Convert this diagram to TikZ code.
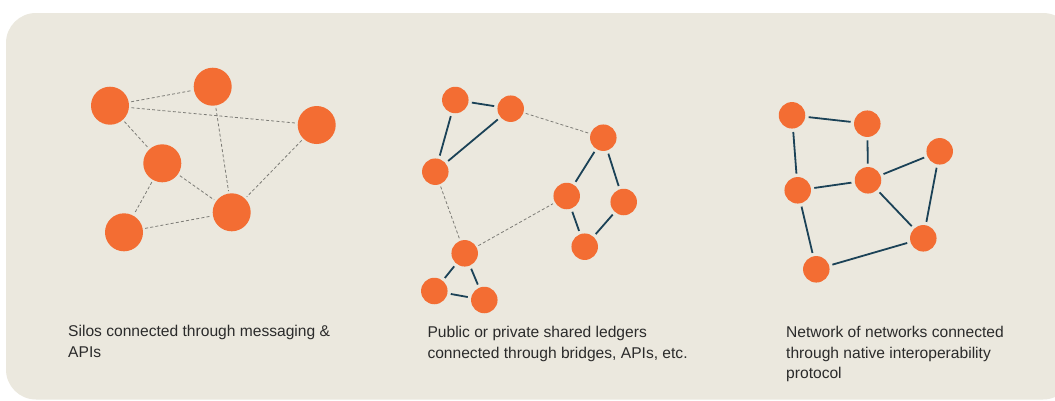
\documentclass[tikz,border=0pt]{standalone}
\usepackage{fontspec}
\setmainfont{Liberation Sans}
\definecolor{panel}{HTML}{EBE8DE}
\definecolor{dot}{HTML}{F36D33}
\definecolor{navy}{HTML}{1B4257}
\definecolor{dashgrey}{HTML}{7C7B76}
\definecolor{ink}{HTML}{2B2B2B}
\begin{document}
\begin{tikzpicture}[x=1pt,y=-1pt,
  big/.style={circle,fill=dot,minimum size=38pt,inner sep=0pt,outer sep=0pt},
  small/.style={circle,fill=dot,minimum size=26.5pt,inner sep=0pt,outer sep=0pt},
  link/.style={draw=navy,line width=1.8pt,shorten <=3.5pt,shorten >=3.5pt},
  weak/.style={draw=dashgrey,line width=0.8pt,dash pattern=on 3pt off 2.2pt,shorten <=2.5pt,shorten >=2.5pt},
  caption/.style={anchor=north west,align=left,inner sep=0pt,text=ink,
    font=\fontsize{15.6}{20.5}\selectfont}]
\useasboundingbox (0,0) rectangle (1055,400);
\fill[white] (0,0) rectangle (1055,400);
\fill[panel,rounded corners=30pt] (6,13) rectangle (1073,399.5);

% --- silos: isolated systems linked by messaging ---
\node[big] (a) at (110,105.7) {};
\node[big] (b) at (212.7,86.7) {};
\node[big] (c) at (316.7,125) {};
\node[big] (d) at (162.3,163.3) {};
\node[big] (e) at (231.7,212.3) {};
\node[big] (f) at (124,232.3) {};
\draw[weak] (a) -- (b);
\draw[weak] (a) -- (c);
\draw[weak] (a) -- (d);
\draw[weak] (b) -- (e);
\draw[weak] (c) -- (e);
\draw[weak] (d) -- (e);
\draw[weak] (d) -- (f);
\draw[weak] (f) -- (e);

% --- shared ledgers joined by bridges ---
\node[small] (g) at (455.3,100) {};
\node[small] (h) at (510.7,108.7) {};
\node[small] (i) at (435.3,171.7) {};
\node[small] (j) at (603.3,137.7) {};
\node[small] (k) at (566.7,196) {};
\node[small] (l) at (623.7,202) {};
\node[small] (m) at (584.7,246.7) {};
\node[small] (n) at (464.7,253.3) {};
\node[small] (o) at (434.3,291) {};
\node[small] (p) at (484.3,300) {};
\draw[link] (g) -- (h);
\draw[link] (g) -- (i);
\draw[link] (h) -- (i);
\draw[link] (j) -- (k);
\draw[link] (j) -- (l);
\draw[link] (k) -- (m);
\draw[link] (l) -- (m);
\draw[link] (n) -- (o);
\draw[link] (n) -- (p);
\draw[link] (o) -- (p);
\draw[weak] (h) -- (j);
\draw[weak] (i) -- (n);
\draw[weak] (n) -- (k);

% --- network of networks ---
\node[small] (q) at (792,115.3) {};
\node[small] (r) at (867.3,123.7) {};
\node[small] (s) at (939.7,151.3) {};
\node[small] (t) at (797.7,190.3) {};
\node[small] (u) at (868,180.3) {};
\node[small] (v) at (923.3,238.3) {};
\node[small] (w) at (816.3,269.3) {};
\draw[link] (q) -- (r);
\draw[link] (q) -- (t);
\draw[link] (r) -- (u);
\draw[link] (t) -- (u);
\draw[link] (u) -- (s);
\draw[link] (u) -- (v);
\draw[link] (s) -- (v);
\draw[link] (t) -- (w);
\draw[link] (w) -- (v);

% --- captions (a strut on the first line fixes the top edge) ---
\node[caption] (cap1) at (68,322.4) {\strut Silos connected through messaging \&\\APIs};
\node[caption] (cap2) at (427.3,323) {\strut Public or private shared ledgers\\connected through bridges, APIs, etc.};
\node[caption] (cap3) at (786,323) {\strut Network of networks connected\\through native interoperability\\protocol};
\end{tikzpicture}
\end{document}
